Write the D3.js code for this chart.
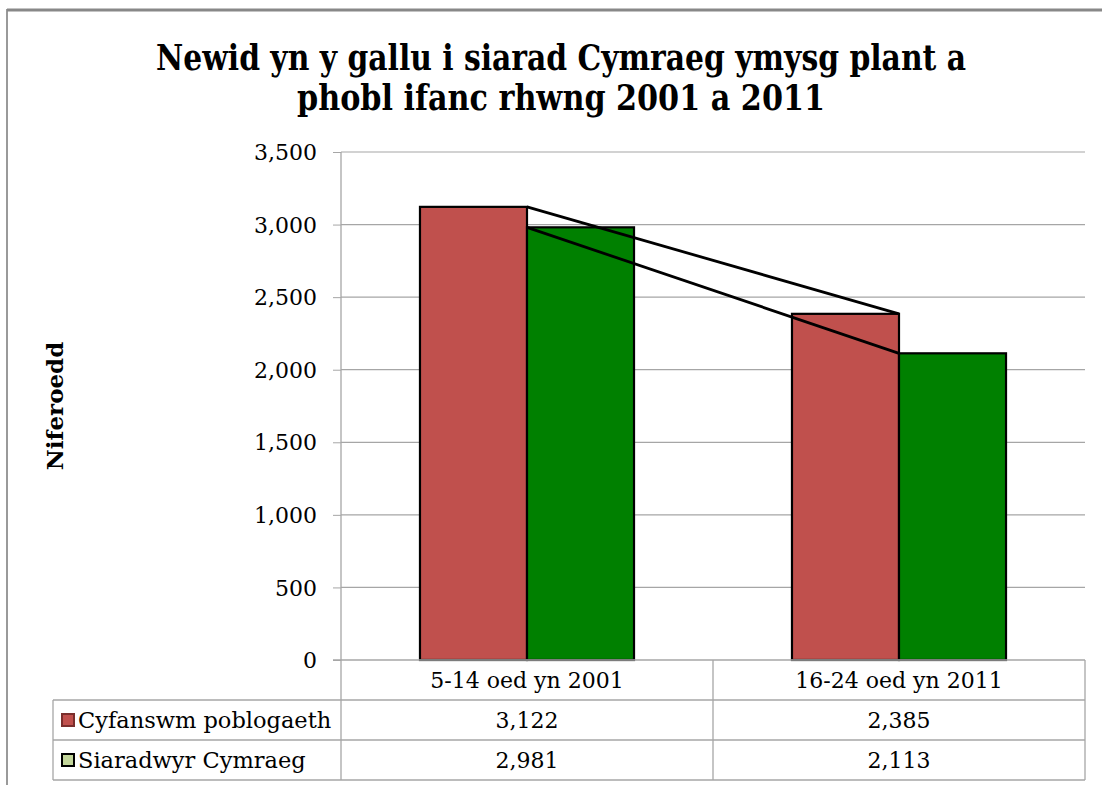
<!DOCTYPE html>
<html>
<head>
<meta charset="utf-8">
<script src="https://cdn.jsdelivr.net/npm/d3@7"></script>
<style>
  html, body { margin: 0; padding: 0; background: #fff; }
  svg { display: block; }
</style>
</head>
<body>
<svg id="chart" width="1102" height="785"></svg>
<script>
const titleLines = ["Newid yn y gallu i siarad Cymraeg ymysg plant a", "phobl ifanc rhwng 2001 a 2011"];
const yAxisTitle = "Niferoedd";
const categories = ["5-14 oed yn 2001", "16-24 oed yn 2011"];
const seriesNames = ["Cyfanswm poblogaeth", "Siaradwyr Cymraeg"];
const totalPopulation = [3122, 2385];
const welshSpeakers = [2981, 2113];
const yTicks = [0, 500, 1000, 1500, 2000, 2500, 3000, 3500];
const seriesColors = ["#C0504D", "#008000"];
const legendColors = ["#C0504D", "#C3D69B"];
const legendStrokes = ["#7a2e2c", "#000"];

const seriesValues = [totalPopulation, welshSpeakers];
const fmt = d3.format(",");

const svg = d3.select("#chart");
const plotLeft = 341, plotRight = 1085, plotTop = 152, plotBottom = 660;
const tableLeft = 53, rowH = 40;
const gridColor = "#A6A6A6";
const serif = "'DejaVu Serif', 'Liberation Serif', serif";

// outer frame
svg.append("rect").attr("x", 7).attr("y", 10).attr("width", 1120).attr("height", 800)
  .attr("fill", "#fff").attr("stroke", "#9a9a9a").attr("stroke-width", 2);
svg.append("line").attr("x1", 7).attr("x2", 1102).attr("y1", 10).attr("y2", 10)
  .attr("stroke", "#888").attr("stroke-width", 3);

// title
const titleWidths = [810, 528];
titleLines.forEach((t, i) => {
  svg.append("text").attr("x", 561).attr("y", 70 + i * 40)
    .attr("text-anchor", "middle")
    .attr("font-family", serif).attr("font-weight", "bold").attr("font-size", 35)
    .attr("textLength", titleWidths[i]).attr("lengthAdjust", "spacingAndGlyphs")
    .attr("fill", "#000").text(t);
});

// scales
const y = d3.scaleLinear().domain([0, 3500]).range([plotBottom, plotTop]);
const x0 = d3.scaleBand().domain(categories).range([plotLeft, plotRight]).padding(0);
const x1 = d3.scaleBand().domain(seriesNames).range([0, x0.bandwidth()]).paddingInner(0).paddingOuter(0.738);

// gridlines + ticks
const yAxis = d3.axisLeft(y).tickValues(yTicks).tickFormat(fmt).tickSize(8).tickPadding(0);
const gAxis = svg.append("g").attr("transform", `translate(${plotLeft},0)`).call(yAxis);
gAxis.select(".domain").remove();
gAxis.selectAll(".tick line").attr("stroke", gridColor);
gAxis.selectAll(".tick text").attr("x", -24).attr("dy", "0.35em")
  .attr("font-family", serif).attr("font-size", 22).attr("fill", "#000");
svg.append("g").selectAll("line").data(yTicks.filter(d => d > 0)).join("line")
  .attr("x1", plotLeft).attr("x2", plotRight)
  .attr("y1", d => y(d)).attr("y2", d => y(d))
  .attr("stroke", gridColor).attr("stroke-width", 1.2);

// y axis title
svg.append("text").attr("transform", `translate(63,${(plotTop + plotBottom) / 2}) rotate(-90)`)
  .attr("text-anchor", "middle").attr("font-family", serif).attr("font-weight", "bold")
  .attr("font-size", 23).attr("fill", "#000").text(yAxisTitle);

// bars
const gBars = svg.append("g");
categories.forEach((c, ci) => {
  seriesNames.forEach((s, si) => {
    const v = seriesValues[si][ci];
    gBars.append("rect")
      .attr("x", x0(c) + x1(s)).attr("width", x1.bandwidth())
      .attr("y", y(v)).attr("height", y(0) - y(v))
      .attr("fill", seriesColors[si]).attr("stroke", "#000").attr("stroke-width", 2.2);
  });
});

// series lines connecting the shared edge between the two bars
const edgeX = c => x0(c) + x1(seriesNames[1]);
seriesNames.forEach((s, si) => {
  const line = d3.line().x((d, i) => edgeX(categories[i])).y(d => y(d));
  svg.append("path").attr("d", line(seriesValues[si]))
    .attr("fill", "none").attr("stroke", "#000").attr("stroke-width", 2.8);
});

// data table
const gT = svg.append("g").attr("stroke", gridColor).attr("stroke-width", 1.3);
gT.append("line").attr("x1", plotLeft - 8).attr("x2", plotRight).attr("y1", plotBottom).attr("y2", plotBottom);
[1, 2, 3].forEach(r => {
  gT.append("line").attr("x1", tableLeft).attr("x2", plotRight)
    .attr("y1", plotBottom + r * rowH).attr("y2", plotBottom + r * rowH);
});
gT.append("line").attr("x1", tableLeft).attr("x2", tableLeft).attr("y1", plotBottom + rowH).attr("y2", plotBottom + 3 * rowH);
gT.append("line").attr("x1", plotLeft).attr("x2", plotLeft).attr("y1", plotTop).attr("y2", plotBottom + 3 * rowH);
categories.forEach(c => {
  const xr = x0(c) + x0.bandwidth();
  gT.append("line").attr("x1", xr).attr("x2", xr).attr("y1", plotBottom).attr("y2", plotBottom + 3 * rowH);
});

// category labels
categories.forEach(c => {
  svg.append("text").attr("x", x0(c) + x0.bandwidth() / 2).attr("y", plotBottom + rowH / 2)
    .attr("dy", "0.35em").attr("text-anchor", "middle")
    .attr("font-family", serif).attr("font-size", 22).attr("fill", "#000").text(c);
});

// series rows
seriesNames.forEach((s, si) => {
  const cy = plotBottom + rowH * (si + 1) + rowH / 2;
  svg.append("rect").attr("x", 62).attr("y", cy - 6).attr("width", 12).attr("height", 12)
    .attr("fill", legendColors[si]).attr("stroke", legendStrokes[si]).attr("stroke-width", 2);
  svg.append("text").attr("x", 78).attr("y", cy).attr("dy", "0.35em")
    .attr("font-family", serif).attr("font-size", 22.5).attr("fill", "#000").text(s);
  categories.forEach((c, ci) => {
    svg.append("text").attr("x", x0(c) + x0.bandwidth() / 2).attr("y", cy).attr("dy", "0.35em")
      .attr("text-anchor", "middle").attr("font-family", serif).attr("font-size", 22)
      .attr("fill", "#000").text(fmt(seriesValues[si][ci]));
  });
});
</script>
</body>
</html>
